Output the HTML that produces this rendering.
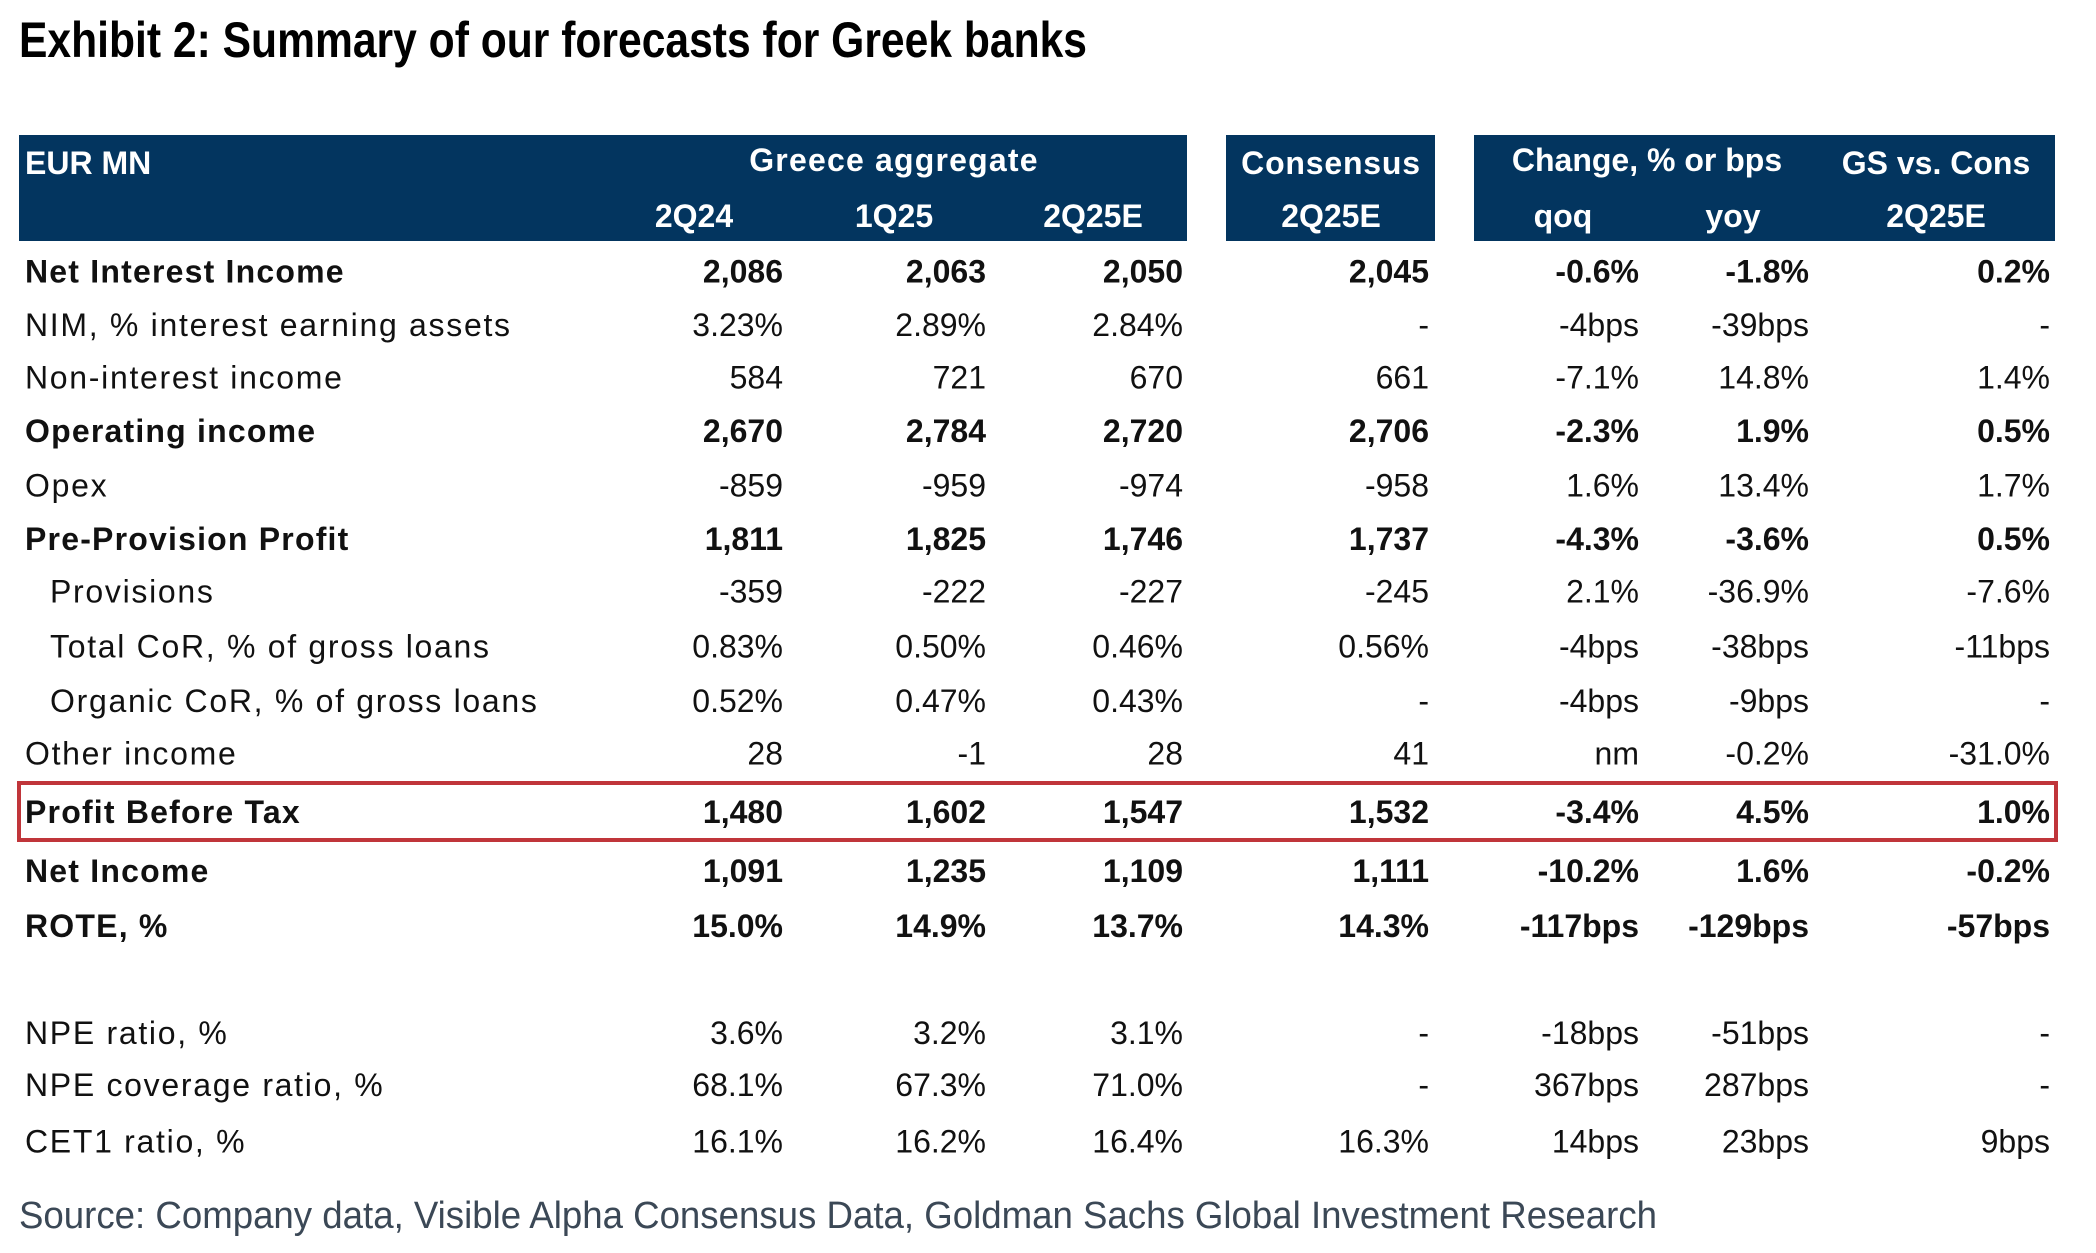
<!DOCTYPE html>
<html><head><meta charset="utf-8"><style>
html,body{margin:0;padding:0;background:#fff;}
svg{display:block;}
text{font-family:"Liberation Sans",sans-serif;}
</style></head><body>
<svg id="chart" width="2096" height="1253" viewBox="0 0 2096 1253">
<text x="19" y="57" font-size="50" font-weight="bold" fill="#000" textLength="1068" lengthAdjust="spacingAndGlyphs">Exhibit 2: Summary of our forecasts for Greek banks</text>
<rect x="19" y="135" width="1168" height="106" fill="#03355f"/>
<rect x="1226" y="135" width="209" height="106" fill="#03355f"/>
<rect x="1474" y="135" width="581" height="106" fill="#03355f"/>
<g fill="#fff" font-weight="bold" font-size="32">
<text x="25" y="174">EUR MN</text>
<text x="894" y="171" text-anchor="middle" letter-spacing="1.2">Greece aggregate</text>
<text x="1331" y="174" text-anchor="middle" letter-spacing="0.8">Consensus</text>
<text x="1647" y="171" text-anchor="middle">Change, % or bps</text>
<text x="1936" y="174" text-anchor="middle">GS vs. Cons</text>
<text x="694" y="227" text-anchor="middle">2Q24</text>
<text x="894" y="227" text-anchor="middle">1Q25</text>
<text x="1093" y="227" text-anchor="middle">2Q25E</text>
<text x="1331" y="227" text-anchor="middle">2Q25E</text>
<text x="1563" y="227" text-anchor="middle">qoq</text>
<text x="1733" y="227" text-anchor="middle">yoy</text>
<text x="1936" y="227" text-anchor="middle">2Q25E</text>
</g>
<g id="rows"></g>
<rect x="19" y="783" width="2037" height="57" fill="none" stroke="#c0353a" stroke-width="4"/>
<text x="19" y="1228" font-size="38" fill="#3b4856" textLength="1638" lengthAdjust="spacingAndGlyphs">Source: Company data, Visible Alpha Consensus Data, Goldman Sachs Global Investment Research</text>
</svg>
<script>
const rowLabels=["Net Interest Income","NIM, % interest earning assets","Non-interest income","Operating income","Opex","Pre-Provision Profit","Provisions","Total CoR, % of gross loans","Organic CoR, % of gross loans","Other income","Profit Before Tax","Net Income","ROTE, %","NPE ratio, %","NPE coverage ratio, %","CET1 ratio, %"];
const rowBold=[1,0,0,1,0,1,0,0,0,0,1,1,1,0,0,0];
const rowIndent=[0,0,0,0,0,0,1,1,1,0,0,0,0,0,0,0];
const col2Q24=["2,086","3.23%","584","2,670","-859","1,811","-359","0.83%","0.52%","28","1,480","1,091","15.0%","3.6%","68.1%","16.1%"];
const col1Q25=["2,063","2.89%","721","2,784","-959","1,825","-222","0.50%","0.47%","-1","1,602","1,235","14.9%","3.2%","67.3%","16.2%"];
const col2Q25E=["2,050","2.84%","670","2,720","-974","1,746","-227","0.46%","0.43%","28","1,547","1,109","13.7%","3.1%","71.0%","16.4%"];
const colCons=["2,045","-","661","2,706","-958","1,737","-245","0.56%","-","41","1,532","1,111","14.3%","-","-","16.3%"];
const colQoq=["-0.6%","-4bps","-7.1%","-2.3%","1.6%","-4.3%","2.1%","-4bps","-4bps","nm","-3.4%","-10.2%","-117bps","-18bps","367bps","14bps"];
const colYoy=["-1.8%","-39bps","14.8%","1.9%","13.4%","-3.6%","-36.9%","-38bps","-9bps","-0.2%","4.5%","1.6%","-129bps","-51bps","287bps","23bps"];
const colGs=["0.2%","-","1.4%","0.5%","1.7%","0.5%","-7.6%","-11bps","-","-31.0%","1.0%","-0.2%","-57bps","-","-","9bps"];
const rowCenters=[203,243,282,322,363,403,442,483,524,563,607,651,692,772,811,853];
const S=1.338;
const cols=[col2Q24,col1Q25,col2Q25E,colCons,colQoq,colYoy,colGs];
const colRight=[783,986,1183,1429,1639,1809,2050];
const g=document.getElementById('rows');
const NS="http://www.w3.org/2000/svg";
rowLabels.forEach((lab,i)=>{
  const y=rowCenters[i]*S+11;
  const t=document.createElementNS(NS,'text');
  t.setAttribute('x',rowIndent[i]?50:25);
  t.setAttribute('y',y);
  t.setAttribute('font-size','32');
  t.setAttribute('fill','#111');
  t.setAttribute('letter-spacing',rowBold[i]?'1.2':'1.7');
  if(rowBold[i])t.setAttribute('font-weight','bold');
  t.textContent=lab;
  
  
  g.appendChild(t);
  cols.forEach((c,j)=>{
    const v=document.createElementNS(NS,'text');
    v.setAttribute('x',colRight[j]);
    v.setAttribute('y',y);
    v.setAttribute('font-size','32');
    v.setAttribute('fill','#111');
    v.setAttribute('text-anchor','end');
    if(rowBold[i])v.setAttribute('font-weight','bold');
    v.textContent=c[i];
    
    
    g.appendChild(v);
  });
});
</script>
</body></html>
